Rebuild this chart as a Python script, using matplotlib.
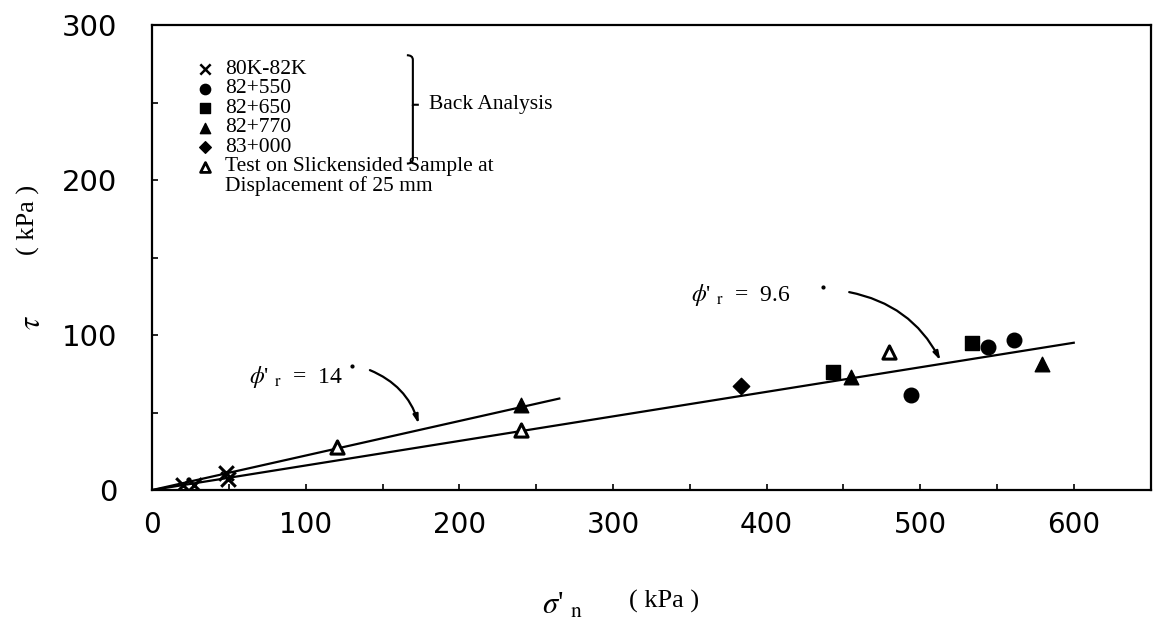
import numpy as np
import matplotlib.pyplot as plt
from matplotlib.path import Path
from matplotlib.patches import PathPatch

# data (sigma'_n, tau in kPa)
x_80k = [20, 27, 48, 49]
y_80k = [3, 3, 11, 7]
x_550 = [494, 544, 561]
y_550 = [61, 92, 97]
x_650 = [443, 534]
y_650 = [76, 95]
x_770 = [240, 455, 579]
y_770 = [55, 73, 81]
x_830 = [383]
y_830 = [67]
x_test = [120, 240, 480]
y_test = [28, 39, 89]

# residual strength envelopes (as drawn)
line14_x = [0, 265]
line14_y = [0, 59]
line96_x = [0, 600]
line96_y = [0, 95]

plt.rcParams['font.family'] = ['Liberation Serif', 'DejaVu Serif']
plt.rcParams['mathtext.fontset'] = 'stix'

fig = plt.figure(figsize=(11.54, 6.25), dpi=100)
ax = fig.add_axes([0.132, 0.216, 0.865, 0.744])

ax.plot(line14_x, line14_y, color='k', lw=1.6)
ax.plot(line96_x, line96_y, color='k', lw=1.6)

ax.scatter(x_80k, y_80k, marker='x', s=110, color='k', linewidths=2.2, zorder=5)
ax.scatter(x_550, y_550, marker='o', s=110, color='k', zorder=5)
ax.scatter(x_650, y_650, marker='s', s=100, color='k', zorder=5)
ax.scatter(x_770, y_770, marker='^', s=110, color='k', zorder=5)
ax.scatter(x_830, y_830, marker='D', s=70, color='k', zorder=5)
ax.scatter(x_test, y_test, marker='^', s=90, facecolor='white', edgecolor='k',
           linewidths=2.2, zorder=5)

# friction angle annotations
ax.text(63, 73, r"$\phi$' $_{\rm r}$  =  14", fontsize=17, va='center')
ax.plot([130], [80], 'k.', ms=4)
ax.annotate('', xy=(174, 41), xytext=(140, 78),
            arrowprops=dict(arrowstyle='-|>,head_length=0.5,head_width=0.15',
                            color='k', lw=1.6, connectionstyle='arc3,rad=-0.25'))
ax.text(351, 126, r"$\phi$' $_{\rm r}$  =  9.6", fontsize=17, va='center')
ax.plot([437], [131], 'k.', ms=4)
ax.annotate('', xy=(514, 82), xytext=(452, 128),
            arrowprops=dict(arrowstyle='-|>,head_length=0.5,head_width=0.15',
                            color='k', lw=1.6, connectionstyle='arc3,rad=-0.25'))

# legend drawn by hand
legend_items = [('x', '80K-82K'), ('o', '82+550'), ('s', '82+650'), ('^', '82+770'),
                ('D', '83+000'), ('^o', 'Test on Slickensided Sample at')]
y0 = 0.905
dy = 0.042
for i, (m, lab) in enumerate(legend_items):
    yy = y0 - i * dy
    if m == '^o':
        ax.scatter([0.053], [yy], marker='^', s=50, facecolor='white', edgecolor='k',
                   linewidths=2, transform=ax.transAxes)
    elif m == 'x':
        ax.scatter([0.053], [yy], marker='x', s=55, color='k', linewidths=1.8,
                   transform=ax.transAxes)
    else:
        ax.scatter([0.053], [yy], marker=m, s=55 if m != 'D' else 35, color='k',
                   transform=ax.transAxes)
    ax.text(0.073, yy, lab, fontsize=15.5, va='center', transform=ax.transAxes)
ax.text(0.073, y0 - 6 * dy, 'Displacement of 25 mm', fontsize=15.5, va='center',
        transform=ax.transAxes)

# curly brace grouping the back-analysis entries
bx, btop, bbot, bw = 0.255, y0 + 0.03, y0 - 4 * dy - 0.035, 0.012
bmid = (btop + bbot) / 2 + 0.01
verts = [(bx, btop), (bx + bw / 2, btop), (bx + bw / 2, btop - 0.01), (bx + bw / 2, bmid + 0.02),
         (bx + bw / 2, bmid + 0.005), (bx + bw / 2, bmid), (bx + bw, bmid),
         (bx + bw / 2, bmid), (bx + bw / 2, bmid - 0.005), (bx + bw / 2, bmid - 0.02),
         (bx + bw / 2, bbot + 0.01), (bx + bw / 2, bbot), (bx, bbot)]
codes = [Path.MOVETO, Path.CURVE3, Path.CURVE3, Path.LINETO, Path.CURVE3, Path.CURVE3,
         Path.LINETO, Path.MOVETO, Path.CURVE3, Path.CURVE3, Path.LINETO, Path.CURVE3,
         Path.CURVE3]
ax.add_patch(PathPatch(Path(verts, codes), fill=False, lw=1.5, color='k',
                       transform=ax.transAxes))
ax.text(0.277, bmid, 'Back Analysis', fontsize=15.5, va='center', transform=ax.transAxes)

ax.set_xlim(0, 650)
ax.set_ylim(0, 300)
ax.set_xticks(np.arange(0, 601, 100))
ax.set_xticks(np.arange(0, 651, 50), minor=True)
ax.set_yticks([0, 100, 200, 300])
ax.set_yticks(np.arange(0, 301, 50), minor=True)
ax.tick_params(axis='both', which='both', direction='in', length=4, width=1.2,
               top=False, right=False)
ax.tick_params(axis='x', which='major', labelsize=20, pad=15)
ax.tick_params(axis='y', which='major', labelsize=21, pad=25)
for lbl in ax.get_xticklabels() + ax.get_yticklabels():
    lbl.set_family('DejaVu Sans')
for s in ax.spines.values():
    s.set_linewidth(1.6)

ax.text(-0.12, 0.36, r'$\tau$', fontsize=22, rotation=90, va='center', ha='center',
        transform=ax.transAxes)
ax.text(-0.124, 0.58, '( kPa )', fontsize=19, rotation=90, va='center', ha='center',
        transform=ax.transAxes)
ax.text(0.39, -0.25, r"$\sigma$' $_{\rm n}$", fontsize=22, va='center', ha='left',
        transform=ax.transAxes)
ax.text(0.478, -0.24, '( kPa )', fontsize=19, va='center', ha='left',
        transform=ax.transAxes)

fig.savefig('out.png', dpi=100)
